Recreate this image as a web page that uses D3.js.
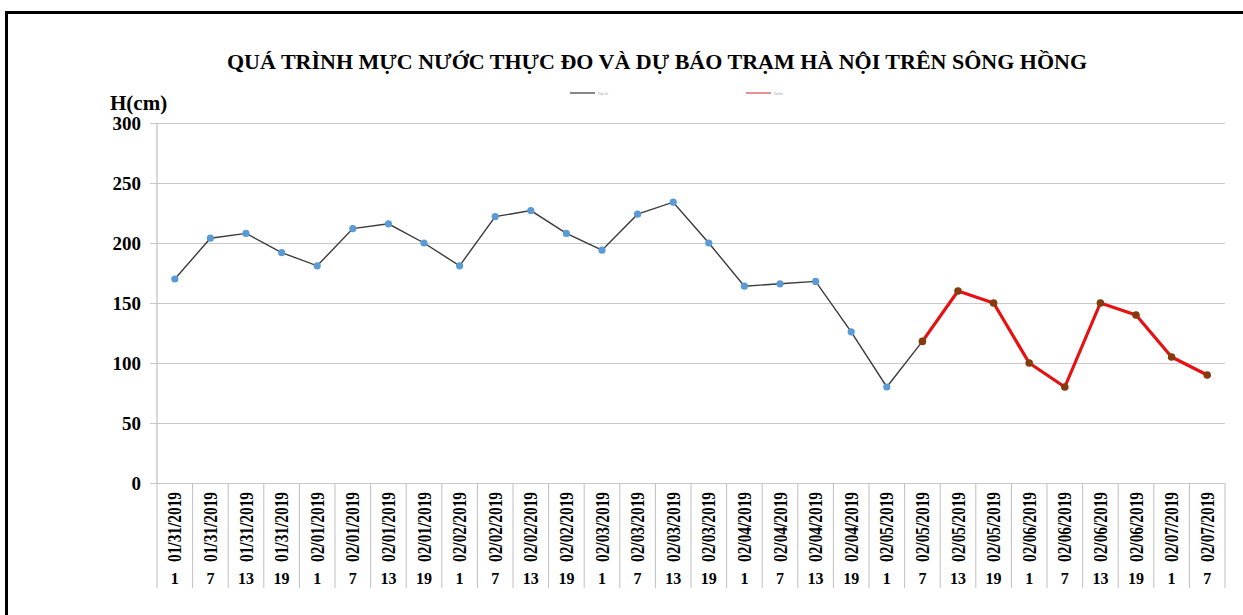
<!DOCTYPE html>
<html>
<head>
<meta charset="utf-8">
<script src="https://cdnjs.cloudflare.com/ajax/libs/d3/7.8.5/d3.min.js"></script>
<style>
body { margin: 0; background: #fff; }
text { font-family: "Liberation Serif", "Times New Roman", serif; font-weight: bold; fill: #000; }
</style>
</head>
<body>
<script>
//SVG dimension variables
var w = 1243, h = 615;

//category labels (date + hour)
var dates = ["01/31/2019","01/31/2019","01/31/2019","01/31/2019",
    "02/01/2019","02/01/2019","02/01/2019","02/01/2019",
    "02/02/2019","02/02/2019","02/02/2019","02/02/2019",
    "02/03/2019","02/03/2019","02/03/2019","02/03/2019",
    "02/04/2019","02/04/2019","02/04/2019","02/04/2019",
    "02/05/2019","02/05/2019","02/05/2019","02/05/2019",
    "02/06/2019","02/06/2019","02/06/2019","02/06/2019",
    "02/07/2019","02/07/2019"];
var hours = [1,7,13,19, 1,7,13,19, 1,7,13,19, 1,7,13,19, 1,7,13,19, 1,7,13,19, 1,7,13,19, 1,7];

//measured water level (index 0..21)
var measured = [170,204,208,192,181,212,216,200,181,222,227,208,194,224,234,200,164,166,168,126,80,118];
//forecast (starts at index 21)
var forecastStart = 21;
var forecast = [118,160,150,100,80,150,140,105,90];

var yTicks = [0,50,100,150,200,250,300];
var title = "QUÁ TRÌNH MỰC NƯỚC THỰC ĐO VÀ DỰ BÁO TRẠM HÀ NỘI TRÊN SÔNG HỒNG";
var legendNames = ["Thực đo", "Dự báo"];

var svg = d3.select("body")
    .append("svg")
    .attr("width", w)
    .attr("height", h);

//outer frame
svg.append("rect")
    .attr("x", 6.5).attr("y", 12.5)
    .attr("width", w + 10).attr("height", h + 10)
    .style("fill", "none")
    .style("stroke", "#000")
    .style("stroke-width", 3);

var x = d3.scaleBand()
    .domain(d3.range(dates.length))
    .range([157, 1225]);

var y = d3.scaleLinear()
    .domain([0, 300])
    .range([483, 123]);

//gridlines + y labels
var yAxis = d3.axisLeft(y)
    .tickValues(yTicks)
    .tickSize(-(1225 - 150))
    .tickPadding(9);

var gy = svg.append("g")
    .attr("transform", "translate(150,0)")
    .call(yAxis);
gy.select(".domain").remove();
gy.selectAll(".tick line")
    .attr("x1", 0)
    .style("stroke", "#c9c9c9")
    .style("stroke-width", 1.2);
gy.selectAll(".tick text")
    .attr("x", -9)
    .attr("dy", "0.34em")
    .style("font-size", "19px")
    .style("font-family", "Liberation Serif, serif")
    .style("font-weight", "bold")
    .attr("fill", "#000");

//vertical axis line
svg.append("line")
    .attr("x1", 157).attr("x2", 157)
    .attr("y1", 123).attr("y2", 483)
    .style("stroke", "#bfbfbf")
    .style("stroke-width", 1.2);

//category table dividers
var dividers = d3.range(dates.length + 1).map(function(i){
    return i < dates.length ? x(i) : x(i - 1) + x.bandwidth();
});
svg.selectAll(".divider")
    .data(dividers)
    .enter()
    .append("line")
    .attr("class", "divider")
    .attr("x1", function(d){ return d; })
    .attr("x2", function(d){ return d; })
    .attr("y1", 483)
    .attr("y2", 588)
    .style("stroke", "#bfbfbf")
    .style("stroke-width", 1);

//date labels, rotated
svg.selectAll(".dateLabel")
    .data(dates)
    .enter()
    .append("text")
    .attr("class", "dateLabel")
    .attr("transform", function(d, i){
        return "translate(" + (x(i) + x.bandwidth() / 2 + 6.5) + ",562) rotate(-90)";
    })
    .attr("textLength", 70)
    .attr("lengthAdjust", "spacingAndGlyphs")
    .style("font-size", "18.5px")
    .text(function(d){ return d; });

//hour labels
svg.selectAll(".hourLabel")
    .data(hours)
    .enter()
    .append("text")
    .attr("class", "hourLabel")
    .attr("text-anchor", "middle")
    .attr("x", function(d, i){ return x(i) + x.bandwidth() / 2; })
    .attr("y", 584)
    .style("font-size", "16px")
    .text(function(d){ return d; });

var cx = function(i){ return x(i) + x.bandwidth() / 2; };

//measured line
var line = d3.line()
    .x(function(d){ return cx(d.i); })
    .y(function(d){ return y(d.v); });

var measData = measured.map(function(v, i){ return {i: i, v: v}; });
var foreData = forecast.map(function(v, i){ return {i: i + forecastStart, v: v}; });

svg.append("path")
    .datum(measData)
    .attr("d", line)
    .style("fill", "none")
    .style("stroke", "#3a3a3a")
    .style("stroke-width", 1.4);

svg.append("path")
    .datum(foreData)
    .attr("d", line)
    .style("fill", "none")
    .style("stroke", "#e81010")
    .style("stroke-width", 3.2)
    .style("stroke-linejoin", "round");

svg.selectAll(".measDot")
    .data(measData.slice(0, forecastStart))
    .enter()
    .append("circle")
    .attr("class", "measDot")
    .attr("cx", function(d){ return cx(d.i); })
    .attr("cy", function(d){ return y(d.v); })
    .attr("r", 3.6)
    .style("fill", "#5b9bd5");

svg.selectAll(".foreDot")
    .data(foreData)
    .enter()
    .append("circle")
    .attr("class", "foreDot")
    .attr("cx", function(d){ return cx(d.i); })
    .attr("cy", function(d){ return y(d.v); })
    .attr("r", 3.8)
    .style("fill", "#843c0c");

//title
svg.append("text")
    .attr("text-anchor", "middle")
    .attr("x", 657)
    .attr("y", 69)
    .style("font-size", "22px")
    .text(title);

//y unit
svg.append("text")
    .attr("x", 110)
    .attr("y", 110)
    .style("font-size", "21px")
    .text("H(cm)");

//legend (tiny, like the original)
var legend = svg.selectAll(".legend")
    .data([{x: 570, c: "#555"}, {x: 746, c: "#e06060"}])
    .enter()
    .append("g")
    .attr("class", "legend");
legend.append("line")
    .attr("x1", function(d){ return d.x; })
    .attr("x2", function(d){ return d.x + 25; })
    .attr("y1", 93).attr("y2", 93)
    .style("stroke", function(d){ return d.c; })
    .style("stroke-width", 1.4);
legend.append("text")
    .attr("x", function(d){ return d.x + 28; })
    .attr("y", 94.5)
    .style("font-size", "3px")
    .style("font-weight", "normal")
    .style("fill", "#999")
    .text(function(d, i){ return legendNames[i]; });
</script>
</body>
</html>
